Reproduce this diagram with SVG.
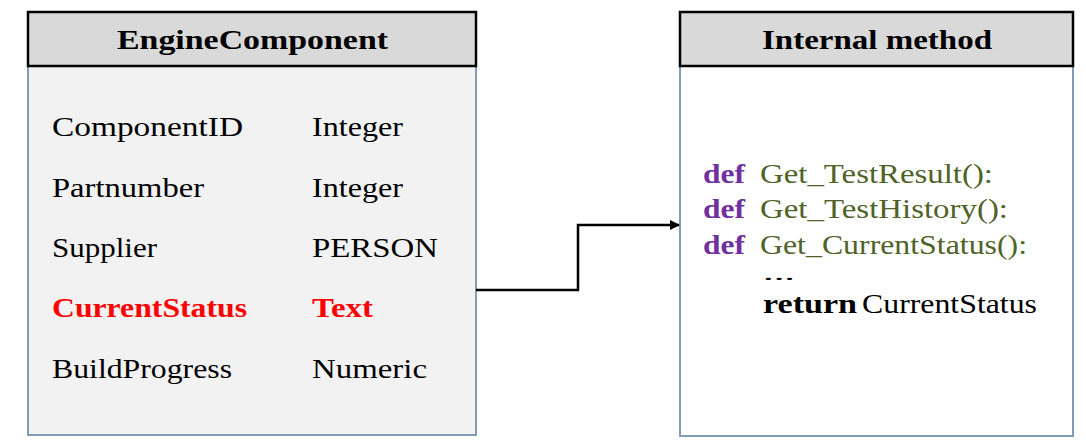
<svg xmlns="http://www.w3.org/2000/svg" width="1086" height="447" viewBox="0 0 1086 447">
<style>
.hdr{fill:#D9D9D9;stroke:#000;stroke-width:2.5}
.body{stroke:#7F9DB9;stroke-width:2}
.t{font-family:"Liberation Serif","Times New Roman",serif;font-size:27px;fill:#000}
.h{font-family:"Liberation Serif","Times New Roman",serif;font-size:28px;font-weight:bold;fill:#000}
.red{fill:#FF0000;font-weight:bold}
.kw{fill:#7030A0;font-weight:bold}
.fn{fill:#4F6228}
.b{font-weight:bold}
.dots{font-size:18px}
.conn{fill:none;stroke:#000;stroke-width:2.5}
</style>
<defs>
<marker id="arr" markerWidth="10" markerHeight="10" refX="9" refY="5" orient="auto" markerUnits="userSpaceOnUse">
<path d="M0,0 L10,5 L0,10 Z" fill="#000"/>
</marker>
</defs>
<rect width="1086" height="447" fill="#fff"/>
<g id="engine-component">
<rect class="body" x="28" y="66" width="448" height="369" fill="#F2F2F2"/>
<rect class="hdr" x="28" y="12" width="448" height="54"/>
<text class="h" x="117" y="49" textLength="271" lengthAdjust="spacingAndGlyphs">EngineComponent</text>
<text class="t" x="52" y="136" textLength="191" lengthAdjust="spacingAndGlyphs">ComponentID</text>
<text class="t" x="312" y="136" textLength="91" lengthAdjust="spacingAndGlyphs">Integer</text>
<text class="t" x="52" y="197" textLength="152" lengthAdjust="spacingAndGlyphs">Partnumber</text>
<text class="t" x="312" y="197" textLength="91" lengthAdjust="spacingAndGlyphs">Integer</text>
<text class="t" x="52" y="257" textLength="105" lengthAdjust="spacingAndGlyphs">Supplier</text>
<text class="t" x="312" y="257" textLength="126" lengthAdjust="spacingAndGlyphs">PERSON</text>
<text class="t red" x="52" y="317" textLength="195" lengthAdjust="spacingAndGlyphs">CurrentStatus</text>
<text class="t red" x="312" y="317" textLength="61" lengthAdjust="spacingAndGlyphs">Text</text>
<text class="t" x="52" y="378" textLength="180" lengthAdjust="spacingAndGlyphs">BuildProgress</text>
<text class="t" x="312" y="378" textLength="115" lengthAdjust="spacingAndGlyphs">Numeric</text>
</g>
<g id="internal-method">
<rect class="body" x="680" y="66" width="393" height="370" fill="#fff"/>
<rect class="hdr" x="680" y="12" width="393" height="54"/>
<text class="h" x="762" y="49" textLength="230" lengthAdjust="spacingAndGlyphs">Internal method</text>
<text class="t kw" x="703" y="183" textLength="42" lengthAdjust="spacingAndGlyphs">def</text>
<text class="t fn" x="760" y="183" textLength="233" lengthAdjust="spacingAndGlyphs">Get_TestResult():</text>
<text class="t kw" x="703" y="218" textLength="42" lengthAdjust="spacingAndGlyphs">def</text>
<text class="t fn" x="760" y="218" textLength="248" lengthAdjust="spacingAndGlyphs">Get_TestHistory():</text>
<text class="t kw" x="703" y="254" textLength="42" lengthAdjust="spacingAndGlyphs">def</text>
<text class="t fn" x="760" y="254" textLength="267" lengthAdjust="spacingAndGlyphs">Get_CurrentStatus():</text>
<text class="t dots" x="763" y="280" textLength="32" lengthAdjust="spacingAndGlyphs">...</text>
<text class="t b" x="763" y="313" textLength="94" lengthAdjust="spacingAndGlyphs">return</text>
<text class="t" x="862" y="313" textLength="175" lengthAdjust="spacingAndGlyphs">CurrentStatus</text>
</g>
<g id="connectors">
<path class="conn" d="M476,290 H578 V225 H679" marker-end="url(#arr)"/>
</g>
</svg>
